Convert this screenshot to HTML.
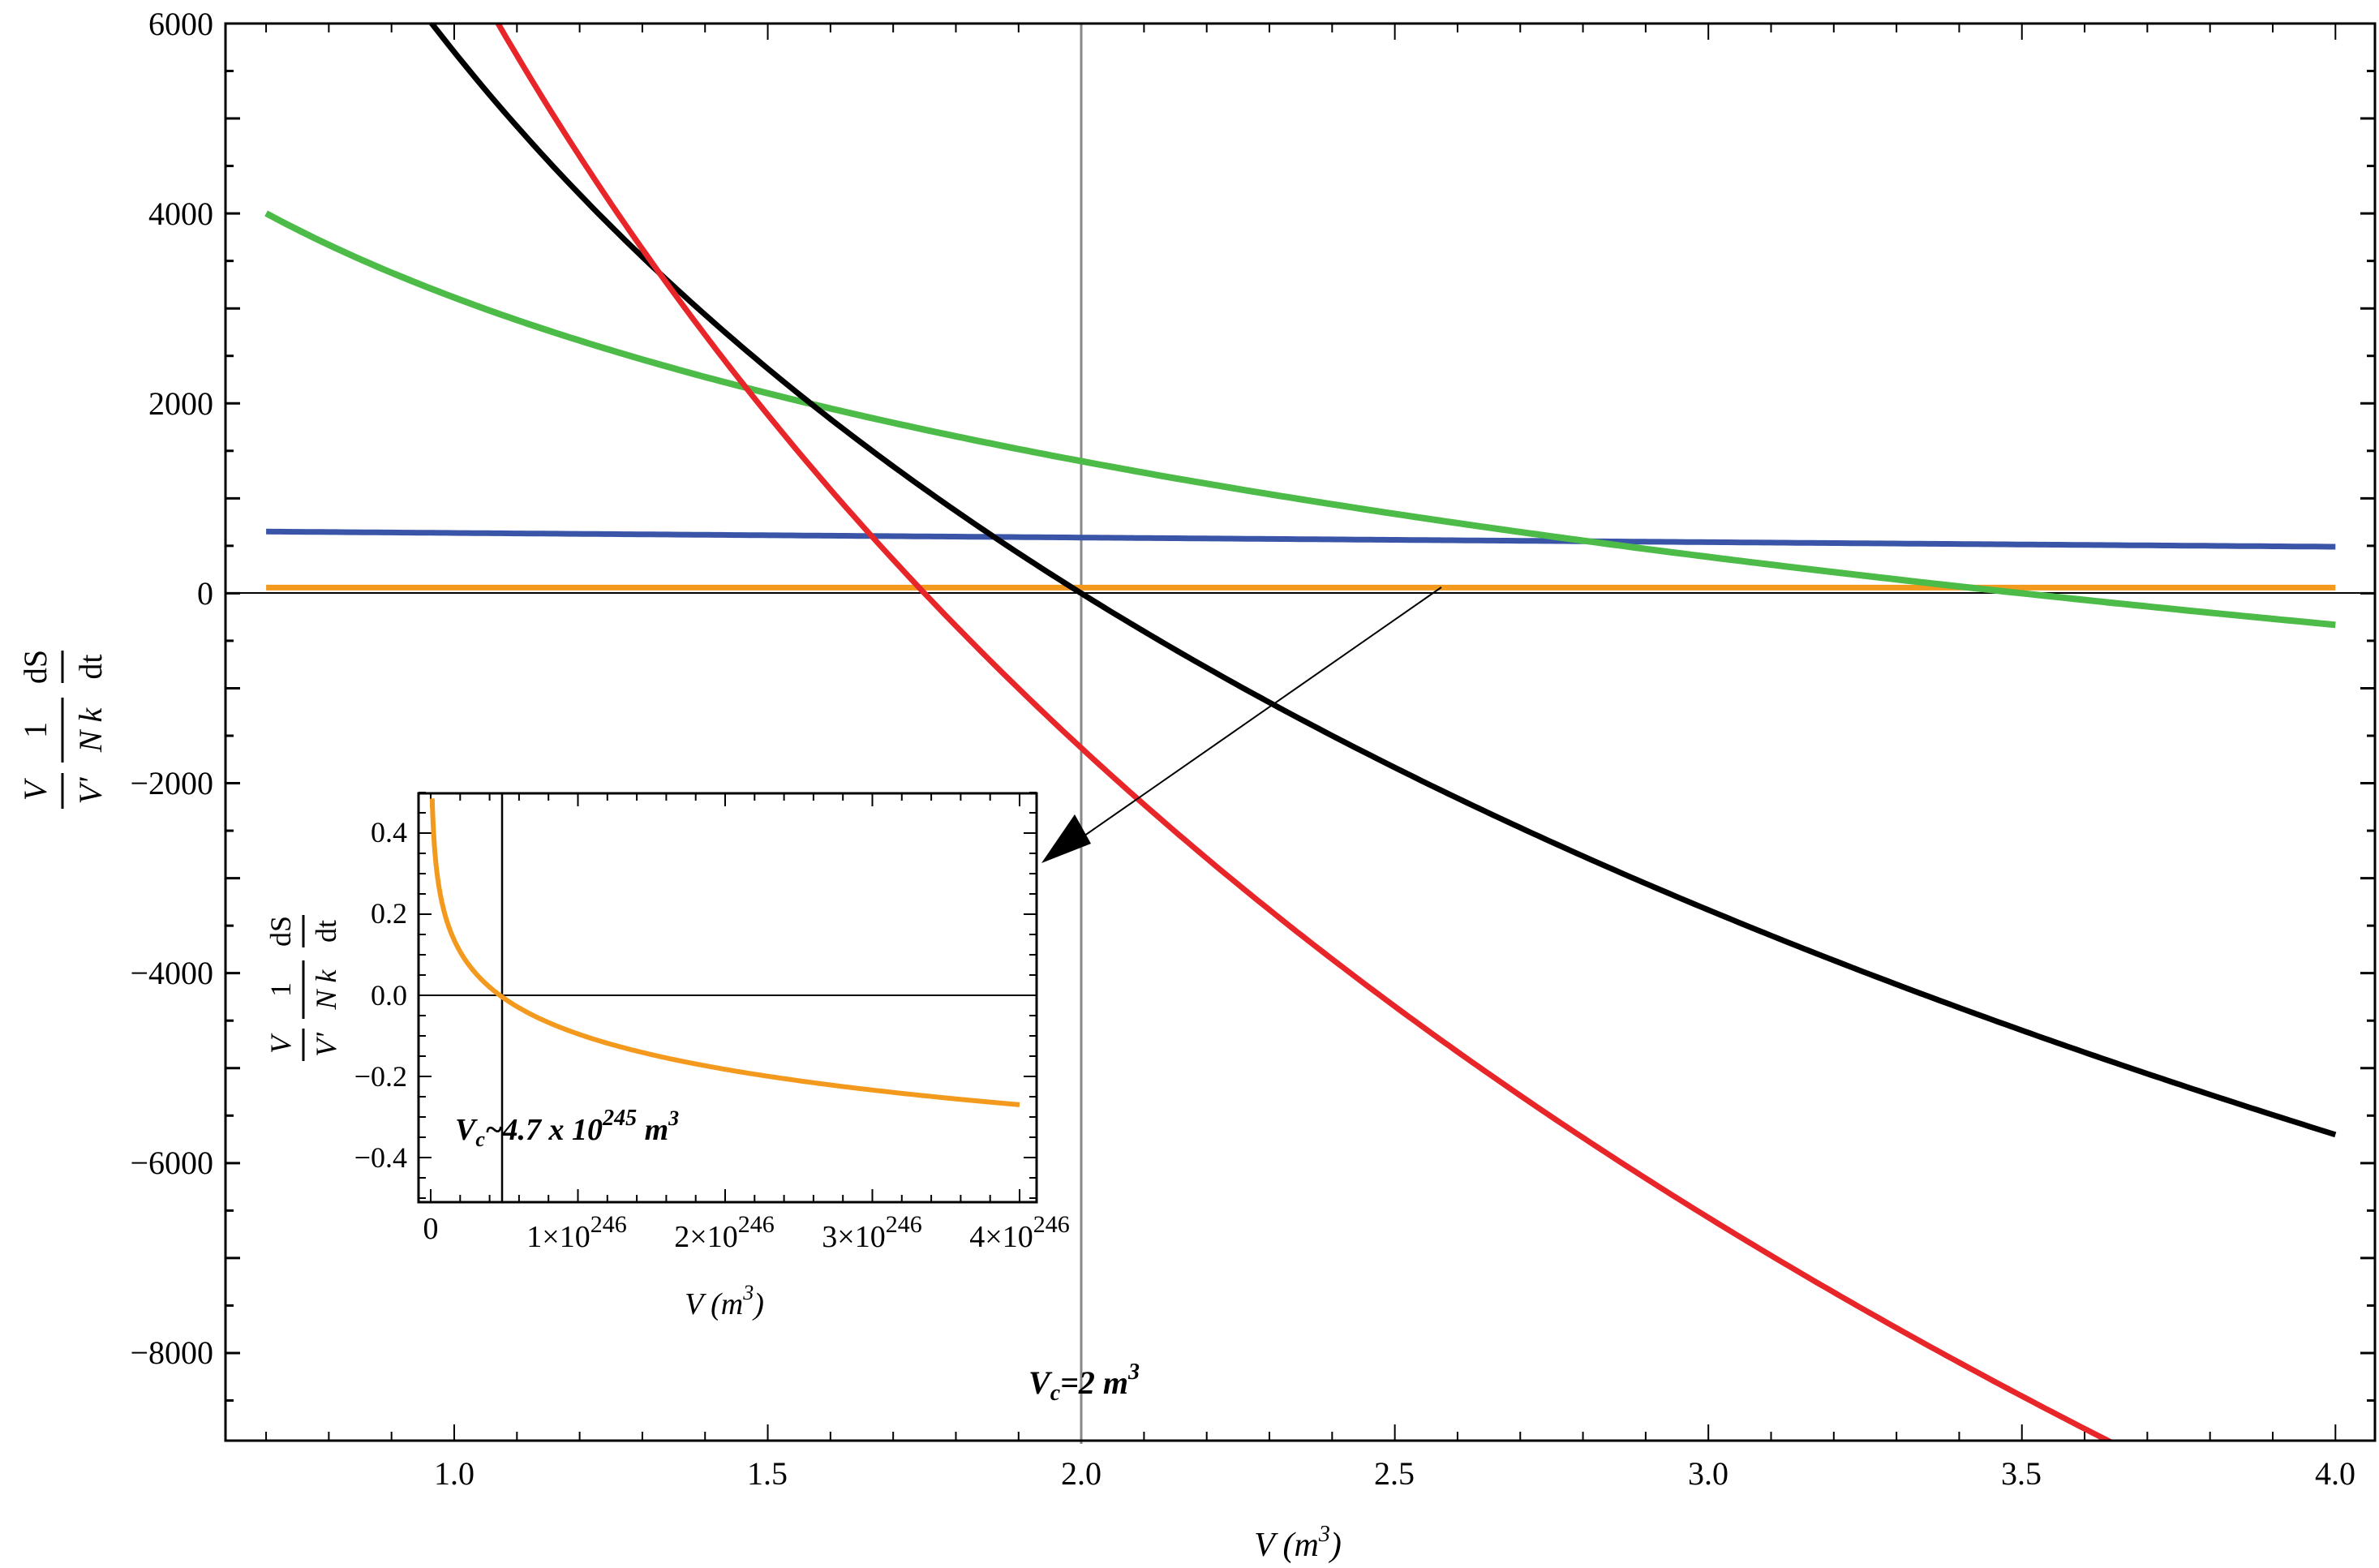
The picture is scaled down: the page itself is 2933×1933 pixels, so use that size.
<!DOCTYPE html>
<html><head><meta charset="utf-8"><style>
html,body{margin:0;padding:0;background:#fff}
svg{display:block}
text{font-family:"Liberation Serif",serif;fill:#000}
</style></head><body>
<svg id="s" width="2933" height="1933" xmlns="http://www.w3.org/2000/svg">
<defs><clipPath id="cp"><rect x="278" y="29" width="2650" height="1747"/></clipPath><clipPath id="cpi"><rect x="516" y="978" width="762" height="504"/></clipPath></defs>
<rect width="2933" height="1933" fill="#fff"/>
<g id="ticks"></g>
<line x1="1333" y1="29" x2="1333" y2="1780" stroke="#888" stroke-width="3"/>
<line x1="278" y1="731" x2="2928" y2="731" stroke="#000" stroke-width="2"/>
<g id="curves" clip-path="url(#cp)"></g>
<rect x="278" y="29" width="2650" height="1747" fill="none" stroke="#000" stroke-width="3"/>
<g font-size="40" text-anchor="end">
<text x="263" y="43">6000</text>
<text x="263" y="277">4000</text>
<text x="263" y="511">2000</text>
<text x="263" y="745">0</text>
<text x="263" y="979">−2000</text>
<text x="263" y="1213">−4000</text>
<text x="263" y="1447">−6000</text>
<text x="263" y="1681">−8000</text>
</g>
<g font-size="40" text-anchor="middle">
<text x="560" y="1830">1.0</text>
<text x="946" y="1830">1.5</text>
<text x="1333" y="1830">2.0</text>
<text x="1719" y="1830">2.5</text>
<text x="2106" y="1830">3.0</text>
<text x="2492" y="1830">3.5</text>
<text x="2879" y="1830">4.0</text>
</g>
<text x="1600" y="1918" font-size="42" text-anchor="middle" font-style="italic">V (m<tspan font-size="28" dy="-18">3</tspan><tspan dy="18">)</tspan></text>
<text x="1268" y="1718" font-size="40" font-style="italic" font-weight="bold">V<tspan font-size="28" dy="8">c</tspan><tspan dy="-8">=2 m</tspan><tspan font-size="28" dy="-18">3</tspan></text>
<g transform="translate(85,900) rotate(-90)" font-size="40" text-anchor="middle">
<text x="-75" y="-28" font-style="italic">V</text><line x1="-97" y1="-8" x2="-53" y2="-8" stroke="#000" stroke-width="3"/><text x="-75" y="40" font-style="italic">V'</text>
<text x="0" y="-28">1</text><line x1="-40" y1="-8" x2="40" y2="-8" stroke="#000" stroke-width="3"/><text x="0" y="40" font-style="italic">N k</text>
<text x="78" y="-28">dS</text><line x1="58" y1="-8" x2="98" y2="-8" stroke="#000" stroke-width="3"/><text x="78" y="40">dt</text>
</g>
<!-- inset -->
<rect x="516" y="978" width="762" height="504" fill="#fff"/>
<g id="inset"></g>
<rect x="516" y="978" width="762" height="504" fill="none" stroke="#000" stroke-width="3"/>
<g font-size="36" text-anchor="end">
<text x="502" y="1038">0.4</text>
<text x="502" y="1138">0.2</text>
<text x="502" y="1239">0.0</text>
<text x="502" y="1339">−0.2</text>
<text x="502" y="1439">−0.4</text>
</g>
<g font-size="38" text-anchor="middle">
<text x="531" y="1527">0</text>
<text x="711" y="1537">1×10<tspan font-size="30" dy="-18">246</tspan></text>
<text x="893" y="1537">2×10<tspan font-size="30" dy="-18">246</tspan></text>
<text x="1075" y="1537">3×10<tspan font-size="30" dy="-18">246</tspan></text>
<text x="1257" y="1537">4×10<tspan font-size="30" dy="-18">246</tspan></text>
</g>
<text x="893" y="1620" font-size="38" font-style="italic" text-anchor="middle">V (m<tspan font-size="26" dy="-18">3</tspan><tspan dy="18">)</tspan></text>
<text x="561" y="1405" font-size="38" font-style="italic" font-weight="bold">V<tspan font-size="26" dy="8">c</tspan><tspan dy="-8">~4.7 x 10</tspan><tspan font-size="28" dy="-18">245</tspan><tspan dy="18"> m</tspan><tspan font-size="26" dy="-18">3</tspan></text>
<g transform="translate(380,1220) rotate(-90)" font-size="36" text-anchor="middle">
<text x="-68" y="-22" font-style="italic">V</text><line x1="-88" y1="-6" x2="-48" y2="-6" stroke="#000" stroke-width="3"/><text x="-68" y="34" font-style="italic">V'</text>
<text x="0" y="-22">1</text><line x1="-36" y1="-6" x2="36" y2="-6" stroke="#000" stroke-width="3"/><text x="0" y="34" font-style="italic">N k</text>
<text x="72" y="-22">dS</text><line x1="52" y1="-6" x2="92" y2="-6" stroke="#000" stroke-width="3"/><text x="72" y="34">dt</text>
</g>
<line x1="1777" y1="724" x2="1320" y2="1042" stroke="#000" stroke-width="2"/>
<polygon points="1284,1064 1325,1004 1345,1040" fill="#000"/>
</svg>
<script>
var NS="http://www.w3.org/2000/svg";
function X(v){return 560+(v-1)*773.1;}
function Y(y){return 731.4-y*0.11707;}
function path(par,d,col,w){var p=document.createElementNS(NS,"path");p.setAttribute("d",d);p.setAttribute("stroke",col);p.setAttribute("stroke-width",w);p.setAttribute("fill","none");par.appendChild(p);}
function line(par,x1,y1,x2,y2,w,col){var l=document.createElementNS(NS,"line");l.setAttribute("x1",x1);l.setAttribute("y1",y1);l.setAttribute("x2",x2);l.setAttribute("y2",y2);l.setAttribute("stroke",col||"#000");l.setAttribute("stroke-width",w);par.appendChild(l);}
var tk=document.getElementById("ticks");
for(var v=0.7;v<=4.001;v+=0.1){var x=X(v);var maj=Math.abs(v*2-Math.round(v*2))<1e-6;var L=maj?20:11;line(tk,x,1776,x,1776-L,2);line(tk,x,29,x,29+L,2);}
for(var y=-8500;y<=6000;y+=500){var yy=Y(y);var maj=(y%1000==0);var L=maj?18:10;line(tk,278,yy,278+L,yy,3);line(tk,2928,yy,2928-L,yy,3);}
var cv=document.getElementById("curves");
function curve(f,a,b,col,w){var d="",n=300;for(var i=0;i<=n;i++){var v=a+(b-a)*i/n;var y=Y(f(v));d+=(i?"L":"M")+X(v).toFixed(1)+" "+y.toFixed(1);}path(cv,d,col,w);}
curve(function(v){return 60;},0.7,4,"#f39a1e",7);
curve(function(v){return 650-160*(v-0.7)/3.3;},0.7,4,"#3a55a8",7);
curve(function(v){return 2486*Math.log(3.5/v);},0.7,4,"#4cbb47",8);
curve(function(v){return 8224*Math.log(2/v);},0.9,4,"#000",7);
curve(function(v){return 12196*Math.log(1.75/v);},1.0,3.8,"#e8262a",7);
var ins=document.getElementById("inset");
for(var i=0;i<=22;i++){var x=531+i*181.5/5;if(x>1278)break;var L=(i%5==0)?16:9;line(ins,x,1482,x,1482-L,2);line(ins,x,978,x,978+L,2);}
for(var q=-0.5;q<=0.5001;q+=0.05){var yy=1227-q*500;var L=(Math.abs(q*10-Math.round(q*10))<1e-6&&Math.round(q*10)%2==0)?16:9;line(ins,516,yy,516+L,yy,2);line(ins,1278,yy,1278-L,yy,2);}
line(ins,516,1227,1278,1227,2);
line(ins,619,978,619,1482,2.5);
var d="";for(var i=0;i<=300;i++){var v=0.01*Math.pow(400,i/300);var y=0.126*Math.log(0.47/v);var yy=1227-y*500;d+=(i?"L":"M")+(531+v*181.5).toFixed(1)+" "+yy.toFixed(1);}
var g=document.createElementNS(NS,"g");g.setAttribute("clip-path","url(#cpi)");ins.appendChild(g);
path(g,d,"#f39a1e",6);
</script>
</body></html>
